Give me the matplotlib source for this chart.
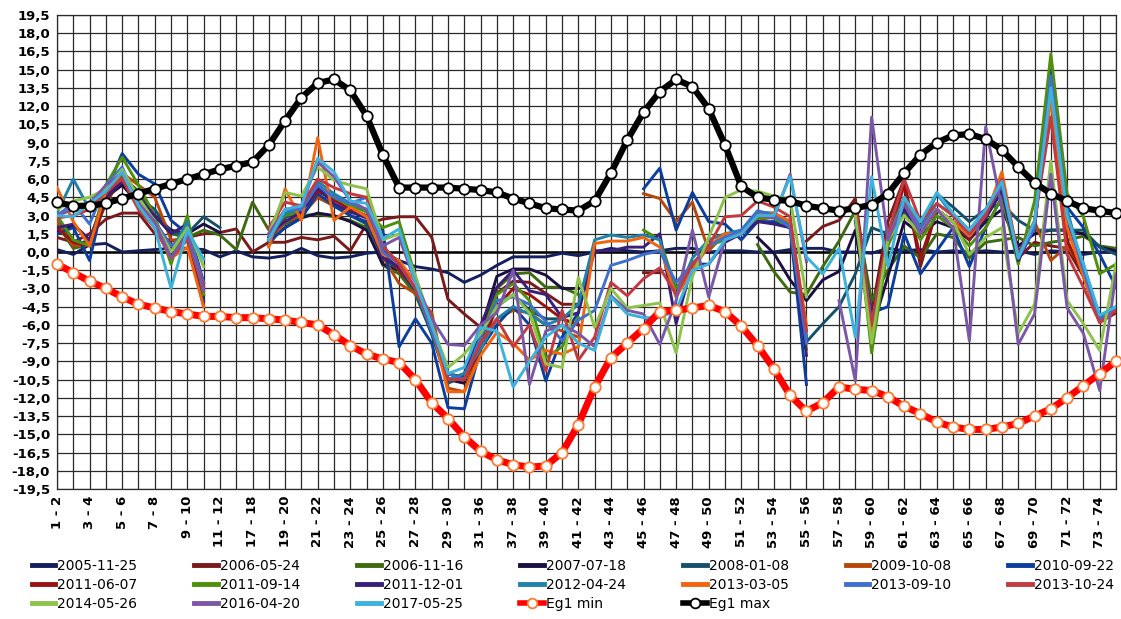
import numpy as np
import matplotlib
matplotlib.use("Agg")
import matplotlib.pyplot as plt
from matplotlib.lines import Line2D

# category labels (station pairs)
categories = ["1 - 2", "2 - 3", "3 - 4", "4 - 5", "5 - 6", "6 - 7", "7 - 8", "8 - 9", "9 - 10", "10 - 11",
              "11 - 12", "12 - 17", "17 - 18", "18 - 19", "19 - 20", "20 - 21", "21 - 22", "22 - 23", "23 - 24", "24 - 25",
              "25 - 26", "26 - 27", "27 - 28", "28 - 29", "29 - 30", "30 - 31", "31 - 36", "36 - 37", "37 - 38", "38 - 39",
              "39 - 40", "40 - 41", "41 - 42", "42 - 43", "43 - 44", "44 - 45", "45 - 46", "46 - 47", "47 - 48", "48 - 49",
              "49 - 50", "50 - 51", "51 - 52", "52 - 53", "53 - 54", "54 - 55", "55 - 56", "56 - 57", "57 - 58", "58 - 59",
              "59 - 60", "60 - 61", "61 - 62", "62 - 63", "63 - 64", "64 - 65", "65 - 66", "66 - 67", "67 - 68", "68 - 69",
              "69 - 70", "70 - 71", "71 - 72", "72 - 73", "73 - 74", "74 - 75"]

s_2005_11_25 = [0.2, -0.2, 0.6, 0.7, 0.0, 0.1, 0.2, 0.3, 0.3, 0.2,
                -0.4, 0.1, -0.4, -0.5, -0.3, 0.3, -0.3, -0.5, -0.4, -0.1,
                0.0, -0.7, -1.2, -1.4, -1.7, -2.5, -1.9, -1.1, -0.4, -0.4,
                -0.4, -0.1, -0.3, 0.0, 0.3, 0.1, 0.0, 0.1, 0.3, 0.3,
                0.0, 0.1, 0.1, 0.0, 0.0, 0.2, 0.3, 0.3, 0.0, 0.0,
                -0.1, 0.3, 0.1, 0.2, 0.0, 0.1, 0.0, 0.1, 0.0, 0.1,
                -0.2, 0.1, 0.0, -0.2, 0.0, 0.0]
s_2006_05_24 = [1.2, 0.8, 1.5, 2.7, 3.2, 3.2, 1.5, 0.9, 1.2, 1.5,
                1.6, 1.9, 0.0, 0.8, 0.8, 1.2, 1.0, 1.3, 0.1, 2.3,
                2.7, 2.9, 2.9, 1.2, -3.9, -5.1, -6.2, -3.4, -2.4, -2.5,
                -3.4, -4.3, -4.3, None, None, None, -1.7, -1.7, None, None,
                None, None, None, None, None, None, 0.9, 2.1, 2.6, 4.4,
                -5.0, 2.5, 6.0, -1.2, 3.5, 2.5, 1.2, 2.8, 5.2, -0.5,
                0.8, 0.5, 0.3, -2.0, -5.5, -5.0]
s_2006_11_16 = [2.3, 0.3, 0.6, 4.0, 6.2, 5.0, 3.0, 1.5, 1.2, 1.8,
                1.4, 0.2, 4.1, 1.8, 2.3, 3.0, 3.1, 2.9, 2.6, 2.0,
                -1.1, -1.8, -3.5, -6.7, -10.0, -10.3, -7.5, -3.0, -1.8, -1.7,
                -2.9, -2.9, -3.5, None, None, None, None, None, None, None,
                None, None, None, 0.6, -1.6, -3.3, -3.5, -1.2, 0.9, 3.4,
                -4.0, -1.5, 0.5, -0.5, 1.5, 1.2, -0.5, 0.8, 1.0, 1.2,
                0.5, 0.8, 1.0, 1.3, 0.5, 0.3]
s_2007_07_18 = [1.7, 2.2, 1.0, 4.5, 5.5, 4.0, 3.0, 1.8, 1.5, 2.3,
                1.6, None, None, 1.2, 2.0, 2.8, 3.2, 3.0, 2.5, 1.8,
                -1.0, -1.5, -3.0, -6.5, -10.5, -10.8, -6.5, -2.0, -1.4, -1.4,
                -1.9, -3.0, -3.0, None, None, None, None, None, None, None,
                None, None, None, 1.2, -0.1, -2.3, -4.0, -2.3, -1.6, 1.8,
                -6.5, -2.0, 2.5, 1.5, 2.5, 2.0, 1.0, 2.5, 3.5, 0.5,
                1.5, 1.8, 1.8, 1.5, 0.4, 0.1]
s_2008_01_08 = [3.0, 0.5, 1.0, 4.8, 6.5, 4.5, 3.5, 1.6, 1.5, 2.9,
                2.0, None, None, 1.0, 2.8, 3.5, 4.5, 3.8, 3.0, 2.3,
                -0.5, -1.5, -3.2, -6.8, -10.8, -10.2, -7.0, -4.5, -3.5, -4.8,
                -5.5, -5.5, -6.0, None, None, None, None, None, None, None,
                None, None, None, None, None, None, -7.4, -5.9, -4.5, -1.8,
                2.0, 1.5, 4.0, 2.0, 4.8, 3.7, 2.5, 3.5, 4.0, 2.6,
                1.8, 1.8, 1.8, 1.8, 0.4, -0.2]
s_2009_10_08 = [2.5, 0.5, 0.6, 4.5, 6.5, 5.5, 4.5, 1.0, 1.0, -4.5,
                None, None, None, 0.5, 2.5, 3.0, 4.5, 3.8, 3.3, 2.9,
                -0.4, -2.6, -3.4, -5.0, -11.2, -11.5, -7.5, -5.5, -4.8, -5.0,
                -6.0, -6.5, -7.0, None, None, None, 4.8, 4.4, 2.5, 4.1,
                0.1, 1.5, 1.5, 2.5, 3.0, 2.3, -6.5, None, None, 3.5,
                -6.0, 1.0, 4.0, 1.5, 3.5, 2.5, 1.5, 3.0, 5.0, -0.3,
                2.5, -0.7, 0.5, -1.5, -5.5, -4.8]
s_2010_09_22 = [1.5, 2.0, -0.7, 5.0, 8.1, 6.4, 5.6, 2.6, 1.5, -4.0,
                None, None, None, 0.8, 2.0, 2.8, 4.8, 3.8, 3.0, 2.5,
                1.8, -7.8, -5.5, -7.5, -12.8, -12.9, -8.0, -6.0, -4.5, -6.0,
                -10.6, -7.0, -5.0, None, None, None, 5.2, 6.9, 1.8, 4.9,
                2.5, 2.3, 1.0, 2.5, 2.5, 2.0, -10.9, None, None, 2.5,
                -5.0, -4.5, 1.5, -1.8, 0.1, 2.0, -1.2, 2.0, 4.5, 0.0,
                2.0, 15.0, 3.7, 2.0, -0.2, -2.9]
s_2011_06_07 = [2.0, 0.8, 0.5, 4.2, 6.0, 4.0, 2.5, 0.5, 1.0, -3.5,
                None, None, None, 1.0, 3.0, 3.5, 5.0, 4.3, 3.5, 3.0,
                0.0, -1.5, -3.0, -6.5, -10.5, -10.5, -8.0, -4.5, -3.0, -3.5,
                -4.5, -5.5, -6.0, None, None, None, None, None, None, None,
                None, 1.2, 1.5, 3.0, 3.2, 2.5, -7.0, None, None, 3.8,
                -6.5, 1.0, 5.5, -0.5, 3.5, 2.5, 1.0, 3.0, 5.5, -0.5,
                2.2, 13.0, 1.0, -2.0, -5.8, -5.0]
s_2011_09_14 = [3.0, 1.0, 0.5, 5.5, 7.8, 5.5, 3.0, -1.0, 3.0, -3.5,
                None, None, None, 1.5, 3.0, 3.3, 5.5, 4.5, 3.8, 3.3,
                2.0, 2.5, -2.0, -6.0, -10.0, -10.5, -7.0, -3.5, -2.6, -4.0,
                -8.7, -7.8, -5.4, None, None, None, 1.8, 1.0, -3.0, -1.0,
                0.5, 1.0, 1.5, 2.8, 2.8, 2.0, -8.0, None, None, 4.0,
                -8.3, 0.5, 3.5, 1.0, 3.0, 2.0, 0.5, 2.0, 4.5, -1.0,
                4.2, 16.3, 4.8, 2.9, -1.8, -1.0]
s_2011_12_01 = [2.0, 2.3, 1.0, 4.5, 5.8, 4.5, 3.0, 1.5, 2.3, -2.5,
                None, None, None, 1.5, 2.5, 3.3, 5.3, 4.0, 3.3, 2.8,
                -0.5, -1.2, -3.0, -6.0, -10.5, -10.0, -6.0, -2.9, -1.5, -3.2,
                -3.5, -5.4, -5.0, 0.1, 0.1, 0.4, 0.4, 1.5, -5.9, -1.0,
                -1.0, 0.8, 1.5, 2.5, 2.3, 2.0, -8.5, None, None, 3.0,
                -7.0, 1.0, 3.5, 1.5, 3.5, 2.5, 1.2, 2.8, 5.0, -0.7,
                2.0, 14.0, 2.5, -1.0, -5.5, -4.5]
s_2012_04_24 = [3.2, 6.0, 3.5, 5.5, 6.8, 4.5, 2.0, 0.0, 2.5, -3.0,
                None, None, None, 1.0, 3.2, 3.5, 5.8, 4.8, 4.0, 3.5,
                0.5, -1.0, -3.0, -6.5, -10.5, -10.0, -8.0, -5.5, -4.5, -5.1,
                -6.0, -5.5, -4.3, 1.0, 1.4, 1.2, 1.4, 1.0, -3.7, -0.5,
                1.0, 1.5, 1.8, 3.3, 3.2, 2.3, -7.0, None, None, 3.8,
                -6.0, 1.2, 4.5, 2.0, 4.8, 3.0, 1.8, 3.5, 5.8, -0.3,
                2.5, 14.0, 3.5, -1.5, -5.3, -4.6]
s_2013_03_05 = [5.3, 2.5, 0.5, 5.0, 6.5, 4.0, 2.0, -0.5, 0.4, -4.5,
                None, None, None, 0.4, 5.2, 2.6, 9.4, 2.6, 3.7, 2.9,
                -0.2, -0.7, -2.5, -6.0, -11.5, -11.5, -8.5, -6.6, -7.5, -8.9,
                -8.1, -8.4, -7.8, 0.7, 0.9, 0.9, 1.2, 0.4, -3.7, -1.5,
                0.5, 1.5, 1.5, 3.0, 3.2, 2.5, -6.0, None, None, 3.5,
                -6.5, 1.0, 4.2, 2.0, 3.5, 2.5, 1.3, 3.0, 6.6, -0.5,
                2.6, 12.6, 2.0, -2.0, -5.7, -4.8]
s_2013_09_10 = [3.0, 4.0, 2.3, 5.5, 7.0, 4.0, 2.5, 0.5, 1.5, -2.5,
                None, None, None, 1.3, 3.5, 3.5, 5.5, 4.5, 4.0, 4.5,
                0.0, -1.0, -3.0, -6.5, -10.0, -10.5, -7.0, -4.0, -3.7, -4.3,
                -5.7, -7.3, -5.6, -4.8, -1.1, -0.7, -0.2, 0.1, -2.5, -1.0,
                0.5, 1.2, 1.8, 3.4, 3.0, 2.0, -7.5, None, None, 3.0,
                -6.0, 1.0, 4.0, 2.0, 4.0, 3.0, 1.5, 3.2, 5.5, -0.5,
                2.0, 14.5, 3.0, -1.5, -5.6, -4.5]
s_2013_10_24 = [2.8, 3.0, 3.5, 5.0, 6.0, 3.5, 2.0, -0.5, 1.0, -2.8,
                None, None, None, 2.0, 4.1, 3.8, 6.0, 5.3, 4.8, 4.5,
                0.5, -1.0, -3.0, -6.0, -10.5, -10.5, -7.5, -5.5, -7.8, -6.0,
                -9.8, -4.8, -8.9, -7.0, -2.5, -3.6, -2.2, -1.3, -3.5, -1.0,
                0.5, 2.9, 3.0, 4.2, 3.7, 2.9, -6.5, None, None, 4.0,
                -6.0, 1.5, 6.0, 2.5, 4.0, 3.0, 1.5, 3.0, 6.0, -0.3,
                2.5, 11.1, -0.2, -2.9, -5.8, -4.8]
s_2014_05_26 = [3.5, 4.2, 4.5, 5.2, 6.8, 4.5, 2.5, 0.0, 2.0, -1.2,
                None, None, None, 1.5, 4.9, 4.6, 7.0, 5.9, 5.5, 5.2,
                1.0, 1.5, -2.0, -6.0, -9.5, -8.4, -6.7, -4.5, -3.5, -5.0,
                -9.2, -9.5, -2.1, -6.2, -3.0, -4.6, -4.4, -4.2, -8.3, -2.0,
                1.2, 4.5, 5.1, 5.0, 4.6, 4.4, -3.7, None, None, 3.0,
                -7.5, 1.0, 3.0, 1.5, 3.5, 2.5, -0.2, 1.2, 2.0, -6.7,
                -4.3, 7.5, -4.0, -5.9, -8.1, -1.0]
s_2016_04_20 = [3.0, 3.5, 4.0, 5.5, 6.5, 4.0, 2.5, -0.5, 1.5, -3.2,
                None, None, None, 1.5, 3.5, 3.8, 7.4, 6.2, 4.2, 3.5,
                0.5, 1.2, -2.5, -5.5, -7.6, -7.7, -6.0, -5.0, -1.5, -10.9,
                -6.5, -6.0, -6.7, -7.8, -3.6, -4.8, -5.1, -7.6, -4.0, 1.8,
                -3.7, 1.0, 1.5, 3.0, 2.8, 6.4, -0.8, None, -4.0, -10.6,
                11.1, 1.0, 4.0, 1.5, 3.5, 2.0, -7.3, 10.3, 3.5, -7.6,
                -5.1, 6.4, -4.6, -6.7, -11.4, -1.8]
s_2017_05_25 = [3.0, 2.9, 4.0, 5.0, 6.6, 3.8, 2.0, -3.0, 1.8, -0.6,
                None, None, None, 1.0, 3.5, 3.8, 7.7, 6.6, 4.2, 4.0,
                1.1, 1.9, -2.5, -6.0, -10.0, -9.5, -6.2, -6.5, -11.1, -9.0,
                -7.0, -6.0, -7.5, -8.1, -3.7, -5.1, -5.4, -5.4, -4.8, -1.5,
                -1.0, 1.0, 1.5, 3.0, 3.0, 6.2, -0.4, -1.8, 0.3, -7.0,
                6.2, -1.2, 4.5, 2.5, 4.9, 3.2, 1.8, 3.5, 5.8, -0.5,
                2.5, 13.5, 3.0, -1.0, -5.2, -4.5]

eg1_min = [-1.0, -1.7, -2.4, -3.0, -3.7, -4.3, -4.6, -4.9, -5.1, -5.3,
           -5.3, -5.4, -5.4, -5.5, -5.6, -5.8, -6.0, -6.8, -7.7, -8.4,
           -8.8, -9.1, -10.5, -12.4, -13.7, -15.2, -16.4, -17.1, -17.5, -17.7,
           -17.6, -16.5, -14.2, -11.1, -8.7, -7.5, -6.3, -4.9, -4.8, -4.6,
           -4.4, -4.9, -6.1, -7.7, -9.6, -11.8, -13.1, -12.4, -11.1, -11.3,
           -11.4, -11.9, -12.7, -13.3, -14.0, -14.4, -14.6, -14.6, -14.4, -14.1,
           -13.5, -12.9, -12.0, -11.0, -10.0, -9.0]
eg1_max = [4.1, 3.8, 3.8, 4.0, 4.4, 4.8, 5.2, 5.6, 6.0, 6.4,
           6.8, 7.1, 7.4, 8.8, 10.8, 12.7, 13.9, 14.2, 13.3, 11.2,
           8.0, 5.3, 5.3, 5.3, 5.3, 5.2, 5.1, 4.9, 4.4, 4.0,
           3.6, 3.5, 3.4, 4.2, 6.5, 9.2, 11.5, 13.2, 14.2, 13.6,
           11.8, 8.8, 5.4, 4.5, 4.3, 4.2, 3.8, 3.6, 3.4, 3.6,
           3.9, 4.8, 6.5, 8.0, 9.0, 9.6, 9.7, 9.3, 8.4, 7.0,
           5.7, 4.8, 4.2, 3.6, 3.4, 3.2]

series_names = ["2005-11-25", "2006-05-24", "2006-11-16", "2007-07-18", "2008-01-08", "2009-10-08",
                "2010-09-22", "2011-06-07", "2011-09-14", "2011-12-01", "2012-04-24", "2013-03-05",
                "2013-09-10", "2013-10-24", "2014-05-26", "2016-04-20", "2017-05-25"]
series_data = [s_2005_11_25, s_2006_05_24, s_2006_11_16, s_2007_07_18, s_2008_01_08, s_2009_10_08,
               s_2010_09_22, s_2011_06_07, s_2011_09_14, s_2011_12_01, s_2012_04_24, s_2013_03_05,
               s_2013_09_10, s_2013_10_24, s_2014_05_26, s_2016_04_20, s_2017_05_25]
series_colors = ["#14205e", "#7a1a1a", "#3e6a12", "#1c0f42", "#17506c", "#b8470c",
                 "#0b3e9f", "#9c1212", "#4f8f0c", "#3a1f7a", "#1f82a8", "#f2650f",
                 "#3f70d0", "#c23a40", "#8dc24c", "#7b57a8", "#3db2dc"]

fig = plt.figure(figsize=(11.21, 6.19), dpi=100)
ax = fig.add_axes([57 / 1121, 1 - 489 / 619, (1116 - 57) / 1121, (489 - 15) / 619])

x = np.arange(len(categories))

for name, vals, col in zip(series_names, series_data, series_colors):
    ax.plot(x, np.array(vals, dtype=float), color=col, lw=2.1, zorder=3, label=name)

ax.plot(x, eg1_min, color="#ff0000", lw=5, marker="o", ms=7.5, mfc="white",
        mec="#ff7a30", mew=1.3, zorder=5, clip_on=False, label="Eg1 min")
ax.plot(x, eg1_max, color="black", lw=4.5, marker="o", ms=7.5, mfc="white",
        mec="black", mew=1.3, zorder=5, clip_on=False, label="Eg1 max")

ax.axhline(0, color="black", lw=1.8, zorder=2)

ax.set_xlim(0, len(categories) - 1)
ax.set_ylim(-19.5, 19.5)

yt = np.arange(-19.5, 19.51, 1.5)
ax.set_yticks(yt)
ax.set_yticklabels([f"{v:.1f}".replace(".", ",").replace("-0,0", "0,0") for v in yt],
                   fontsize=9.5, fontweight="bold")
ax.set_xticks(x)
ax.set_xticklabels([c if i % 2 == 0 else "" for i, c in enumerate(categories)],
                   rotation=90, fontsize=9.5, fontweight="bold")
ax.tick_params(length=0, pad=5)
ax.grid(True, color="#2a2a2a", lw=0.9, zorder=1)
ax.set_axisbelow(True)
for sp in ax.spines.values():
    sp.set_color("#2a2a2a")
    sp.set_linewidth(0.9)

# legend: excel fills rows, matplotlib fills columns
handles, labels = ax.get_legend_handles_labels()
handles = [Line2D([], [], color=h.get_color(), lw=3.5) if l.startswith("20") else
           Line2D([], [], color=h.get_color(), lw=4, marker="o", ms=7, mfc="white",
                  mec=h.get_markeredgecolor(), mew=1.3)
           for h, l in zip(handles, labels)]
order = []
for c in range(7):
    for r in range(3):
        k = c + 7 * r
        if k < len(handles):
            order.append(k)
fig.legend([handles[k] for k in order], [labels[k] for k in order], ncol=7,
           loc="upper left", bbox_to_anchor=(0.022, 0.108), frameon=False,
           fontsize=10, handlelength=1.7, handletextpad=0.15, columnspacing=4.1,
           labelspacing=0.35, borderpad=0)

fig.savefig("out.png", dpi=100)
